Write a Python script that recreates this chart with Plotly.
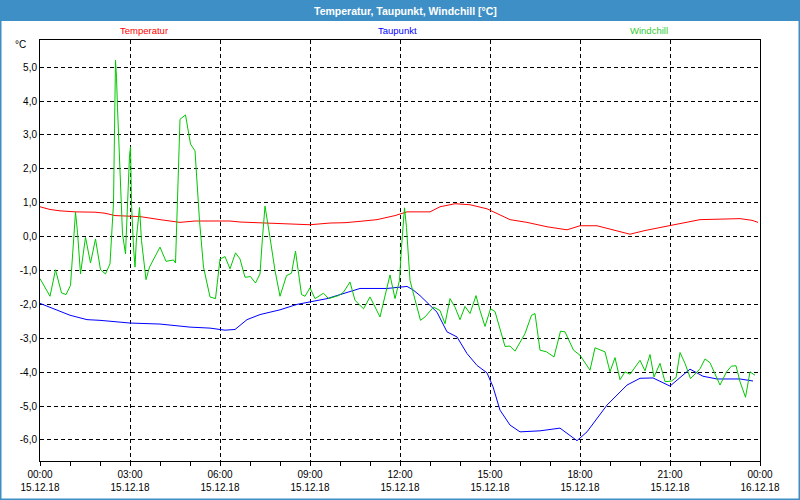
import plotly.graph_objects as go
import pandas as pd

DAY = "2018-12-15"

# Temperatur (red)
temp_time = ["00:00", "00:20", "00:40", "01:10", "01:50", "02:10", "02:30", "03:20", "04:00",
             "04:40", "05:10", "06:20", "06:40", "07:40", "08:40", "09:00", "09:40", "10:10",
             "10:40", "11:14", "11:50", "12:14", "13:00", "13:20", "13:50", "14:20", "14:54",
             "15:40", "16:14", "16:54", "17:34", "18:00", "18:34", "19:16", "19:40", "20:10",
             "20:40", "21:20", "22:00", "23:20", "23:44", "23:56"]
temp_val = [0.88, 0.80, 0.76, 0.73, 0.72, 0.69, 0.62, 0.59, 0.50,
            0.42, 0.46, 0.46, 0.43, 0.40, 0.38, 0.35, 0.40, 0.41,
            0.45, 0.50, 0.62, 0.73, 0.73, 0.88, 0.97, 0.94, 0.82,
            0.50, 0.42, 0.29, 0.20, 0.32, 0.32, 0.15, 0.07, 0.18,
            0.27, 0.40, 0.50, 0.53, 0.48, 0.42]

# Taupunkt (blue)
dew_time = ["00:00", "01:00", "01:34", "02:00", "03:00", "04:00", "05:00", "05:40", "06:10",
            "06:30", "06:54", "07:20", "08:00", "08:34", "09:34", "10:40", "11:34", "12:14",
            "12:26", "12:40", "13:14", "13:34", "13:54", "14:14", "14:34", "14:54", "15:06",
            "15:20", "15:40", "16:00", "16:40", "17:20", "17:54", "18:14", "18:54", "19:34",
            "20:00", "20:26", "21:00", "21:40", "22:06", "22:34", "23:20", "23:46"]
dew_val = [-1.97, -2.32, -2.45, -2.47, -2.55, -2.58, -2.67, -2.70, -2.76,
           -2.74, -2.45, -2.30, -2.16, -2.00, -1.83, -1.53, -1.53, -1.47,
           -1.57, -1.74, -2.23, -2.81, -2.96, -3.45, -3.80, -4.02, -4.43,
           -5.12, -5.56, -5.76, -5.73, -5.65, -6.02, -5.76, -4.97, -4.38,
           -4.18, -4.17, -4.41, -3.91, -4.12, -4.20, -4.20, -4.26]

# Windchill (green)
wc_time = ["00:00", "00:20", "00:31", "00:43", "00:52", "01:01", "01:11", "01:15", "01:21", "01:31",
           "01:41", "01:51", "02:01", "02:11", "02:20", "02:27", "02:31", "02:33", "02:35", "02:40",
           "02:45", "02:51", "02:55", "02:59", "03:01", "03:03", "03:07", "03:10", "03:13", "03:19",
           "03:23", "03:32", "03:39", "04:00", "04:12", "04:27", "04:31", "04:35", "04:40", "04:51",
           "04:56", "05:01", "05:10", "05:19", "05:27", "05:40", "05:51", "06:00", "06:10", "06:20",
           "06:31", "06:40", "06:50", "07:01", "07:11", "07:20", "07:25", "07:30", "07:40", "07:50",
           "08:00", "08:13", "08:23", "08:31", "08:43", "08:50", "09:00", "09:10", "09:27", "09:37",
           "09:57", "10:07", "10:20", "10:30", "10:47", "11:00", "11:20", "11:40", "11:50", "11:59",
           "12:03", "12:09", "12:13", "12:20", "12:27", "12:41", "12:50", "13:07", "13:20", "13:30",
           "13:40", "13:50", "14:00", "14:10", "14:20", "14:32", "14:40", "14:50", "15:01", "15:10",
           "15:30", "15:40", "15:50", "16:10", "16:23", "16:30", "16:40", "16:53", "17:08", "17:21",
           "17:30", "17:47", "18:00", "18:20", "18:30", "18:50", "19:00", "19:10", "19:20", "19:30",
           "19:40", "20:00", "20:10", "20:20", "20:28", "20:40", "20:50", "21:03", "21:12", "21:20",
           "21:30", "21:41", "22:00", "22:10", "22:20", "22:40", "22:53", "23:03", "23:12", "23:20",
           "23:31", "23:40", "23:50"]
wc_val = [-1.24, -1.76, -0.98, -1.66, -1.71, -1.44, 0.72, 0.13, -1.10, -0.02,
          -0.78, -0.07, -0.98, -1.10, -0.80, 0.99, 5.20, 4.70, 3.80, 1.89,
          0.08, -0.51, 1.16, 2.38, 2.65, 0.96, -0.31, -0.90, -0.02, 0.86,
          -0.12, -1.27, -0.90, -0.31, -0.73, -0.69, -0.78, 1.30, 3.46, 3.59,
          3.21, 2.73, 2.53, 0.47, -0.90, -1.78, -1.83, -0.66, -0.59, -0.95,
          -0.48, -0.66, -1.20, -1.18, -1.37, -1.10, -0.02, 0.90, -0.03, -1.00,
          -1.76, -1.15, -1.08, -0.43, -1.71, -1.76, -1.51, -1.83, -1.67, -1.83,
          -1.74, -1.64, -1.34, -1.88, -2.13, -1.78, -2.37, -1.13, -1.83, -1.29,
          -0.31, 0.85, 0.27, -1.29, -1.69, -2.47, -2.37, -2.08, -2.18, -2.57,
          -1.83, -2.08, -2.45, -2.06, -2.27, -1.74, -2.18, -2.65, -2.13, -2.21,
          -3.24, -3.23, -3.38, -2.86, -2.32, -2.27, -3.35, -3.40, -3.55, -2.79,
          -2.81, -3.35, -3.50, -3.94, -3.28, -3.40, -3.99, -3.57, -4.22, -3.99,
          -4.06, -3.65, -3.96, -3.48, -4.14, -3.74, -4.28, -4.26, -4.16, -3.42,
          -3.74, -4.19, -3.90, -3.61, -3.72, -4.38, -3.99, -3.82, -3.81, -4.28,
          -4.74, -3.99, -4.09]

x_tick_hours = [0, 3, 6, 9, 12, 15, 18, 21, 24]
y_tick_vals = [-6, -5, -4, -3, -2, -1, 0, 1, 2, 3, 4, 5]

series_names = ["Temperatur", "Taupunkt", "Windchill"]
series_colors = ["#ff0000", "#0000ff", "#00c800"]
label_colors = ["#ff0000", "#0000ff", "#33cc33"]


def to_dt(times):
    return pd.to_datetime([f"{DAY} {t}" for t in times])


start = pd.Timestamp(DAY)
tick_dt = [start + pd.Timedelta(hours=h) for h in x_tick_hours]
tick_txt = [d.strftime("%H:%M") + "<br>" + d.strftime("%d.%m.%y") for d in tick_dt]
y_tick_txt = [f"{v:.1f}".replace(".", ",") for v in y_tick_vals]

fig = go.Figure()
for times, vals, name, col in [(temp_time, temp_val, series_names[0], series_colors[0]),
                               (dew_time, dew_val, series_names[1], series_colors[1]),
                               (wc_time, wc_val, series_names[2], series_colors[2])]:
    fig.add_trace(go.Scatter(x=to_dt(times), y=vals, mode="lines", name=name,
                             line=dict(color=col, width=1), showlegend=False, hoverinfo="skip"))

# plot area: x 40..760, y 40..461 px
W, H = 800, 500
L, R, T, B = 40, 40, 40, 39
PW, PH = W - L - R, H - T - B


def px(xp):
    return (xp - L) / PW


def py(yp):
    return (H - B - yp) / PH


fig.update_layout(
    width=W, height=H,
    margin=dict(l=L, r=R, t=T, b=B, pad=0, autoexpand=False),
    paper_bgcolor="white", plot_bgcolor="white",
    font=dict(family="Liberation Sans, Arial, sans-serif", size=10, color="black"),
    xaxis=dict(
        type="date", range=[tick_dt[0], tick_dt[-1]], automargin=False,
        tickmode="array", tickvals=tick_dt, ticktext=tick_txt,
        showgrid=True, gridcolor="black", gridwidth=1, griddash="4px,3px",
        showline=True, linecolor="black", linewidth=1, mirror=True,
        ticks="outside", ticklen=4, tickcolor="black", tickwidth=1,
        tickfont=dict(size=10), zeroline=False, ticklabelstandoff=0,
        minor=dict(dtick=3600000, tick0=DAY, ticks="outside", ticklen=4,
                   tickcolor="black", showgrid=False),
    ),
    yaxis=dict(
        range=[-6.62, 5.80], tickmode="array", tickvals=y_tick_vals, ticktext=y_tick_txt,
        automargin=False,
        showgrid=True, gridcolor="black", gridwidth=1, griddash="4px,3px",
        showline=True, linecolor="black", linewidth=1, mirror=True,
        ticks="", zeroline=False, tickfont=dict(size=10),
    ),
    shapes=[
        dict(type="rect", xref="paper", yref="paper", x0=px(0), x1=px(W), y0=py(21), y1=py(0),
             fillcolor="#3d8fc6", line=dict(width=0), layer="above"),
        dict(type="rect", xref="paper", yref="paper", x0=px(0), x1=px(W), y0=py(H), y1=py(0),
             fillcolor="rgba(0,0,0,0)", line=dict(color="#3d8fc6", width=3), layer="above"),
    ],
    annotations=[
        dict(text="<b>Temperatur, Taupunkt, Windchill [°C]</b>", xref="paper", yref="paper",
             x=px(405), y=py(10.5), showarrow=False, xanchor="center", yanchor="middle",
             font=dict(size=10.5, color="white")),
        dict(text="°C", xref="paper", yref="paper", x=px(28), y=py(44), showarrow=False,
             xanchor="right", yanchor="middle", font=dict(size=10)),
        dict(text=series_names[0], xref="paper", yref="paper", x=px(144), y=py(31),
             showarrow=False, xanchor="center", yanchor="middle",
             font=dict(size=9.5, color=label_colors[0])),
        dict(text=series_names[1], xref="paper", yref="paper", x=px(397), y=py(31),
             showarrow=False, xanchor="center", yanchor="middle",
             font=dict(size=9.5, color=label_colors[1])),
        dict(text=series_names[2], xref="paper", yref="paper", x=px(649), y=py(31),
             showarrow=False, xanchor="center", yanchor="middle",
             font=dict(size=9.5, color=label_colors[2])),
    ],
)

fig.write_html("out.html", config={"displayModeBar": False},
               post_script="document.body.style.margin='0';document.body.style.overflow='hidden';")
